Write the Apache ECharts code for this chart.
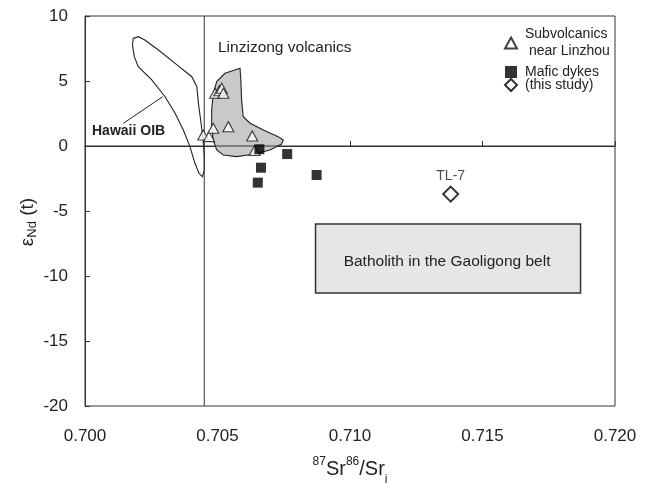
<!DOCTYPE html>
<html>
<head>
<meta charset="utf-8">
<script src="https://cdn.jsdelivr.net/npm/echarts@6/dist/echarts.min.js"></script>
<style>
  html, body { margin: 0; padding: 0; background: #fff; }
  #chart { width: 651px; height: 483px; }
</style>
</head>
<body>
<div id="chart"></div>
<script>
// Sr–Nd isotope diagram: initial 87Sr/86Sr vs. εNd(t)

// Subvolcanics near Linzhou (open triangles)
const subvolcanicsSr = [0.70491, 0.70507, 0.70516, 0.70522, 0.70446, 0.70468, 0.70484, 0.70541, 0.70631, 0.70640];
const subvolcanicsNd = [4.05, 4.25, 4.44, 4.05, 0.85, 0.72, 1.36, 1.48, 0.77, -0.35];

// Mafic dykes (filled squares)
const dykesSr = [0.70658, 0.70763, 0.70664, 0.70874, 0.70652];
const dykesNd = [-0.25, -0.62, -1.67, -2.23, -2.82];

// This study (open diamond)
const thisStudySr = [0.7138];
const thisStudyNd = [-3.7];
const thisStudyNames = ['TL-7'];

// Hawaii OIB field outline
const hawaiiSr = [0.70182, 0.70201, 0.70226, 0.70277, 0.70340, 0.70403, 0.70422, 0.70428, 0.70438, 0.70446,
                  0.70450, 0.70450, 0.70443, 0.70430, 0.70415, 0.70396, 0.70371, 0.70340, 0.70302, 0.70252,
                  0.70201, 0.70186, 0.70179];
const hawaiiNd = [8.28, 8.41, 8.15, 7.38, 6.36, 5.33, 4.56, 3.28, 1.75, 0.46,
                  -0.82, -1.85, -2.36, -2.10, -1.33, -0.05, 1.23, 2.52, 3.79, 5.08,
                  6.10, 6.87, 7.77];

// Linzizong volcanics field outline
const linzizongSr = [0.70585, 0.70528, 0.70497, 0.70484, 0.70478, 0.70478, 0.70484, 0.70497, 0.70522, 0.70572,
                     0.70635, 0.70698, 0.70742, 0.70748, 0.70729, 0.70673, 0.70623, 0.70597, 0.70591, 0.70588];
const linzizongNd = [5.98, 5.59, 4.95, 4.05, 2.77, 1.48, 0.46, -0.31, -0.69, -0.82,
                     -0.64, -0.31, 0.15, 0.46, 0.72, 1.23, 1.75, 2.25, 3.54, 5.08];

// Batholith in the Gaoligong belt (rectangular field)
const batholithSr = [0.7087, 0.7187];
const batholithNd = [-6.0, -11.3];

// Reference lines: Sr = 0.7045 and εNd = 0
const refSr = 0.7045;
const refNd = 0;

// Leader line from the "Hawaii OIB" label to its field
const leaderSr = [0.70145, 0.70293];
const leaderNd = [1.75, 3.79];

// Axis ticks
const xTicks = [0.700, 0.705, 0.710, 0.715, 0.720];
const yTicks = [-20, -15, -10, -5, 0, 5, 10];

const FONT = '"Liberation Sans", Arial, Helvetica, sans-serif';
const INK = '#222';

const zip = (a, b) => a.map((v, i) => [v, b[i]]);
const xMin = xTicks[0], xMax = xTicks[xTicks.length - 1];
const yMin = yTicks[0], yMax = yTicks[yTicks.length - 1];

function fieldSeries(name, pts, fill, z) {
  return {
    name: name,
    type: 'custom',
    silent: true,
    z: z,
    data: pts,
    encode: { x: 0, y: 1 },
    renderItem: function (params, api) {
      if (params.dataIndex !== 0) return null;
      return {
        type: 'polygon',
        shape: { points: pts.map(p => api.coord(p)) },
        style: { fill: fill, stroke: INK, lineWidth: 1.1 }
      };
    }
  };
}

function refLine(name, pts) {
  return {
    name: name,
    type: 'line',
    silent: true,
    z: 3,
    data: pts,
    symbol: 'none',
    lineStyle: { color: '#333', width: 1 }
  };
}

const chart = echarts.init(document.getElementById('chart'), null, { renderer: 'canvas' });

const option = {
  backgroundColor: '#fff',
  animation: false,
  textStyle: { fontFamily: FONT },
  grid: {
    left: 85, right: 36, top: 16, bottom: 77,
    outerBoundsMode: 'none',
    containLabel: false,
    show: true, borderColor: '#333', borderWidth: 1, backgroundColor: 'transparent'
  },
  xAxis: {
    type: 'value',
    min: xMin, max: xMax, interval: 0.005,
    axisLine: { show: true, lineStyle: { color: '#333' } },
    axisTick: { show: true, inside: true, length: 5, lineStyle: { color: '#333' } },
    splitLine: { show: false },
    axisLabel: {
      fontSize: 17, color: INK, margin: 22, fontFamily: FONT,
      formatter: v => v.toFixed(3)
    },
    name: '{sup|87}{b|Sr}{sup|86}{b|/Sr}{sub|i}',
    nameLocation: 'middle',
    nameGap: 50,
    nameTextStyle: {
      color: INK, fontFamily: FONT,
      rich: {
        b: { fontSize: 20, lineHeight: 26, color: INK, fontFamily: FONT },
        sup: { fontSize: 12, lineHeight: 12, verticalAlign: 'top', color: INK, fontFamily: FONT },
        sub: { fontSize: 12, lineHeight: 12, verticalAlign: 'bottom', color: INK, fontFamily: FONT, padding: [0, 0, -4, 0] }
      }
    }
  },
  yAxis: {
    type: 'value',
    min: yMin, max: yMax, interval: 5,
    axisLine: { show: true, lineStyle: { color: '#333' } },
    axisTick: { show: true, inside: true, length: 5, lineStyle: { color: '#333' } },
    splitLine: { show: false },
    axisLabel: { fontSize: 17, color: INK, margin: 17, fontFamily: FONT }
  },
  legend: [
    {
      data: ['Subvolcanics\n near Linzhou'],
      orient: 'vertical', left: 499, top: 21,
      itemWidth: 12, itemHeight: 11, itemGap: 0,
      textStyle: { fontSize: 14, lineHeight: 17, color: INK, fontFamily: FONT, padding: [0, 0, 0, 3] }
    },
    {
      data: ['Mafic dykes', '(this study)'],
      orient: 'vertical', left: 499, top: 60,
      itemWidth: 12, itemHeight: 12, itemGap: -1,
      textStyle: { fontSize: 14, lineHeight: 14, color: INK, fontFamily: FONT, padding: [0, 0, 0, 3] }
    }
  ],
  graphic: [
    {
      type: 'text', x: 28, y: 222, rotation: Math.PI / 2,
      style: {
        text: '{e|ε}{s|Nd}{e| (t)}',
        align: 'center', verticalAlign: 'middle',
        fill: INK,
        rich: {
          e: { fontSize: 19, lineHeight: 22, fill: INK, fontFamily: FONT },
          s: { fontSize: 13, lineHeight: 14, verticalAlign: 'bottom', fill: INK, fontFamily: FONT }
        }
      }
    },
    {
      type: 'text', left: 218, top: 40,
      style: { text: 'Linzizong volcanics', fontSize: 15.5, fill: INK, fontFamily: FONT }
    },
    {
      type: 'text', left: 92, top: 124,
      style: { text: 'Hawaii OIB', fontSize: 14, fontWeight: 'bold', fill: INK, fontFamily: FONT }
    }
  ],
  series: [
    fieldSeries('Hawaii OIB', zip(hawaiiSr, hawaiiNd), 'rgba(255,255,255,0)', 1),
    fieldSeries('Linzizong volcanics', zip(linzizongSr, linzizongNd), '#c9c9c9', 1),
    {
      name: 'Batholith',
      type: 'custom',
      silent: true,
      z: 1,
      data: [[batholithSr[0], batholithNd[0], batholithSr[1], batholithNd[1]]],
      encode: { x: [0, 2], y: [1, 3] },
      renderItem: function (params, api) {
        const p1 = api.coord([api.value(0), api.value(1)]);
        const p2 = api.coord([api.value(2), api.value(3)]);
        return {
          type: 'group',
          children: [
            {
              type: 'rect',
              shape: { x: p1[0], y: p1[1], width: p2[0] - p1[0], height: p2[1] - p1[1] },
              style: { fill: '#e6e6e6', stroke: '#333', lineWidth: 1.5 }
            },
            {
              type: 'text',
              x: (p1[0] + p2[0]) / 2 - 1, y: (p1[1] + p2[1]) / 2 + 3,
              style: {
                text: 'Batholith in the Gaoligong belt',
                align: 'center', verticalAlign: 'middle',
                fontSize: 15.5, fill: INK, fontFamily: FONT
              }
            }
          ]
        };
      }
    },
    refLine('Sr reference', [[refSr, yMin], [refSr, yMax]]),
    refLine('εNd reference', [[xMin, refNd], [xMax, refNd]]),
    {
      name: 'leader',
      type: 'line',
      silent: true,
      z: 2,
      data: zip(leaderSr, leaderNd),
      symbol: 'none',
      lineStyle: { color: INK, width: 1 }
    },
    {
      name: 'Subvolcanics\n near Linzhou',
      type: 'scatter',
      z: 5,
      data: zip(subvolcanicsSr, subvolcanicsNd),
      symbol: 'triangle',
      symbolSize: [11, 10],
      itemStyle: { color: '#fff', borderColor: '#111', borderWidth: 1.1 }
    },
    {
      name: 'Mafic dykes',
      type: 'scatter',
      z: 6,
      data: zip(dykesSr, dykesNd),
      symbol: 'rect',
      symbolSize: 10,
      itemStyle: { color: '#000' }
    },
    {
      name: '(this study)',
      type: 'scatter',
      z: 6,
      data: thisStudySr.map((v, i) => ({ name: thisStudyNames[i], value: [v, thisStudyNd[i]] })),
      symbol: 'diamond',
      symbolSize: 15,
      itemStyle: { color: '#fff', borderColor: '#000', borderWidth: 2 },
      label: {
        show: true, position: 'top', distance: 2,
        formatter: p => p.name,
        fontSize: 14, color: INK, fontFamily: FONT
      }
    }
  ]
};

chart.setOption(option);
</script>
</body>
</html>
